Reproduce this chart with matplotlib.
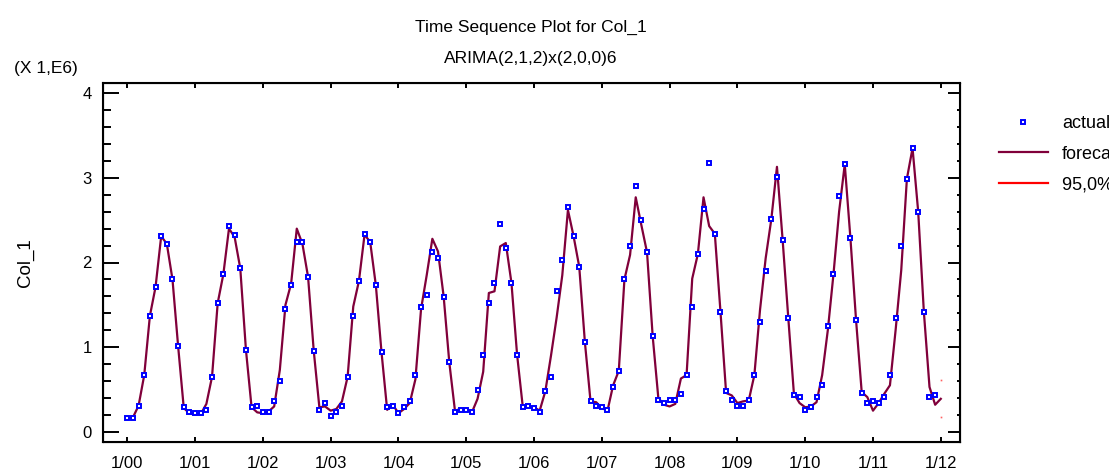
import matplotlib
matplotlib.use("Agg")
import matplotlib.pyplot as plt
import numpy as np
from matplotlib.ticker import MultipleLocator

# monthly values, x 1E6, Jan 2000 .. Dec 2011
ACTUAL = [
    0.165, 0.165, 0.31, 0.67, 1.37, 1.71, 2.31, 2.22, 1.80, 1.01, 0.29, 0.24,
    0.22, 0.22, 0.26, 0.65, 1.52, 1.86, 2.43, 2.32, 1.93, 0.97, 0.29, 0.31,
    0.24, 0.24, 0.36, 0.60, 1.45, 1.73, 2.24, 2.24, 1.83, 0.96, 0.26, 0.34,
    0.19, 0.24, 0.31, 0.65, 1.37, 1.78, 2.34, 2.24, 1.73, 0.94, 0.29, 0.31,
    0.22, 0.29, 0.36, 0.67, 1.47, 1.62, 2.12, 2.05, 1.59, 0.82, 0.24, 0.26,
    0.26, 0.24, 0.50, 0.91, 1.52, 1.76, 2.46, 2.17, 1.76, 0.91, 0.29, 0.31,
    0.28, 0.24, 0.48, 0.65, 1.66, 2.03, 2.65, 2.31, 1.95, 1.06, 0.36, 0.31,
    0.29, 0.26, 0.53, 0.72, 1.80, 2.19, 2.90, 2.50, 2.12, 1.13, 0.38, 0.34,
    0.38, 0.38, 0.45, 0.67, 1.47, 2.10, 2.63, 3.18, 2.34, 1.42, 0.48, 0.38,
    0.31, 0.31, 0.38, 0.67, 1.30, 1.90, 2.51, 3.01, 2.27, 1.35, 0.43, 0.41,
    0.26, 0.29, 0.41, 0.55, 1.25, 1.86, 2.79, 3.16, 2.29, 1.32, 0.46, 0.34,
    0.36, 0.34, 0.41, 0.67, 1.35, 2.19, 2.99, 3.35, 2.60, 1.42, 0.41, 0.43,
]

# one-step forecasts, Feb 2000 .. Jan 2012
FORECAST_START = 1
FORECAST = [
    0.17, 0.31, 0.67, 1.37, 1.71, 2.31, 2.22, 1.80, 1.01, 0.28, 0.22,
    0.20, 0.21, 0.33, 0.65, 1.52, 1.86, 2.40, 2.30, 1.93, 0.97, 0.29, 0.23,
    0.22, 0.24, 0.30, 0.73, 1.50, 1.75, 2.40, 2.22, 1.83, 0.96, 0.29, 0.30,
    0.25, 0.27, 0.36, 0.65, 1.48, 1.78, 2.33, 2.24, 1.73, 0.94, 0.26, 0.32,
    0.22, 0.27, 0.34, 0.62, 1.45, 1.85, 2.28, 2.13, 1.60, 0.82, 0.25, 0.27,
    0.27, 0.23, 0.39, 0.71, 1.64, 1.66, 2.19, 2.23, 1.76, 0.91, 0.30, 0.30,
    0.29, 0.25, 0.48, 0.90, 1.35, 1.85, 2.62, 2.31, 1.95, 1.06, 0.36, 0.35,
    0.28, 0.25, 0.55, 0.72, 1.80, 2.09, 2.77, 2.44, 2.12, 1.13, 0.40, 0.32,
    0.30, 0.33, 0.63, 0.67, 1.81, 2.10, 2.77, 2.43, 2.34, 1.42, 0.46, 0.43,
    0.34, 0.36, 0.37, 0.67, 1.44, 2.05, 2.51, 3.13, 2.27, 1.35, 0.45, 0.34,
    0.29, 0.30, 0.35, 0.67, 1.20, 1.86, 2.60, 3.16, 2.29, 1.32, 0.47, 0.41,
    0.25, 0.34, 0.45, 0.55, 1.20, 1.91, 2.99, 3.35, 2.60, 1.42, 0.53, 0.32,
    0.39,
]

LIMIT_MONTHS = [144]
UPPER_LIMIT = [0.61]
LOWER_LIMIT = [0.17]

YEAR_LABELS = ["1/00", "1/01", "1/02", "1/03", "1/04", "1/05", "1/06",
               "1/07", "1/08", "1/09", "1/10", "1/11", "1/12"]

plt.rcParams["font.family"] = ["Liberation Sans", "DejaVu Sans"]

W, H = 1109, 472
fig = plt.figure(figsize=(W / 100, H / 100), dpi=100)
ax = fig.add_axes([103 / W, 1 - 442 / H, (960 - 103) / W, (442 - 83) / H])

months = np.arange(len(ACTUAL))
fc_months = np.arange(FORECAST_START, FORECAST_START + len(FORECAST))

ax.plot(fc_months, FORECAST, color="#80003a", lw=1.6, label="forecast", zorder=2)
ax.plot(months, ACTUAL, ls="none", marker="s", ms=3.5, mfc="white", mec="#0000ff",
        mew=1.4, label="actual", zorder=3)
ax.plot(LIMIT_MONTHS, UPPER_LIMIT, color="#ff0000", lw=1.6, label="95,0% limits")
ax.plot(LIMIT_MONTHS, LOWER_LIMIT, color="#ff0000", lw=1.6)
ax.plot(LIMIT_MONTHS * 2, UPPER_LIMIT + LOWER_LIMIT, ls="none", marker="s",
        ms=1.2, color="#ff6060", mew=0)

ax.set_xlim(-4.3, 147.4)
ax.set_ylim(-0.12, 4.12)
ax.set_xticks(np.arange(0, 12 * len(YEAR_LABELS), 12))
ax.set_xticklabels(YEAR_LABELS)
ax.yaxis.set_major_locator(MultipleLocator(1))
ax.yaxis.set_minor_locator(MultipleLocator(0.2))

ax.tick_params(axis="x", direction="in", top=True, length=3.6, width=1.4,
               labelsize=12, pad=10)
ax.tick_params(axis="y", which="major", direction="in", length=11.5, width=1.4,
               labelsize=12, pad=8)
ax.tick_params(axis="y", which="minor", direction="in", length=6, width=1.4)
for side in ax.spines.values():
    side.set_linewidth(1.5)

right = ax.twinx()
right.set_ylim(ax.get_ylim())
right.yaxis.set_major_locator(MultipleLocator(1))
right.yaxis.set_minor_locator(MultipleLocator(0.2))
right.tick_params(which="major", direction="in", length=8.5, width=1.4, labelright=False)
right.tick_params(which="minor", direction="in", length=2, width=1.4)

ax.set_ylabel("Col_1", fontsize=13.5)
ax.yaxis.set_label_coords((34 - 103) / (960 - 103), 0.5)
fig.text(14 / W, 1 - 68 / H, "(X 1,E6)", fontsize=12.5, va="center", ha="left")
fig.text(531 / W, 1 - 27 / H, "Time Sequence Plot for Col_1", fontsize=12.5,
         ha="center", va="center")
fig.text(531 / W, 1 - 59 / H, "ARIMA(2,1,2)x(2,0,0)6", fontsize=12.5,
         ha="center", va="center")

handles, labels = ax.get_legend_handles_labels()
order = [1, 0, 2]
ax.legend([handles[i] for i in order], [labels[i] for i in order],
          loc="upper left", bbox_to_anchor=(999 / W, 1 - 115 / H),
          bbox_transform=fig.transFigure, frameon=False, fontsize=13,
          handlelength=2.7, handletextpad=0.8, labelspacing=0.75,
          borderpad=0, borderaxespad=0, markerscale=0.8)

fig.savefig("out.png", dpi=100)
